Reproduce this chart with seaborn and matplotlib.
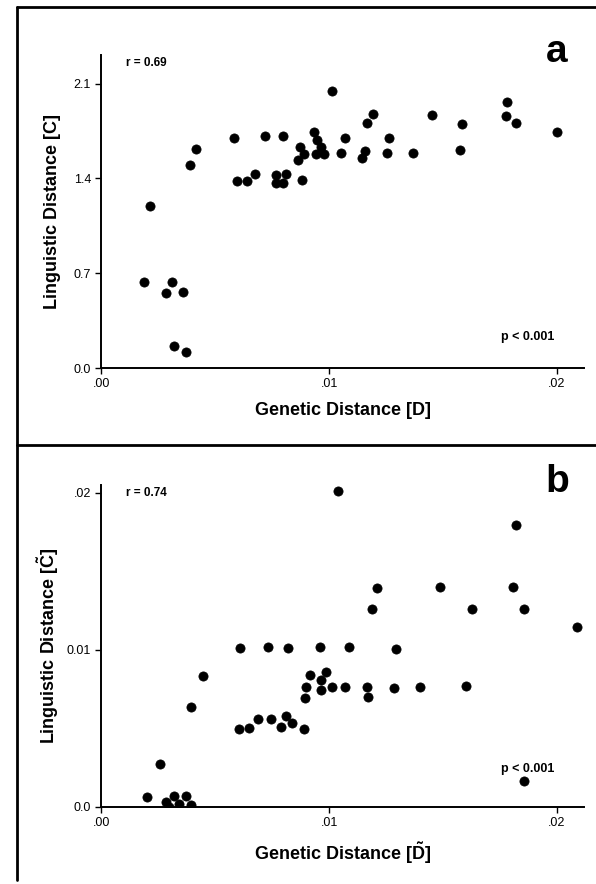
import numpy as np
import pandas as pd
import matplotlib.pyplot as plt
import seaborn as sns
from matplotlib.lines import Line2D

# panel a : genetic distance D vs linguistic distance C
gen_a = [0.0101, 0.0178, 0.01776, 0.0182, 0.0200, 0.01452, 0.01584, 0.01574,
         0.0119, 0.01165, 0.01157, 0.01145, 0.01264, 0.01255, 0.01367, 0.01068,
         0.01052, 0.00932, 0.00948, 0.00965, 0.0094, 0.00977, 0.00873, 0.0089,
         0.00861, 0.00881, 0.00798, 0.00718, 0.00583, 0.00594, 0.00639, 0.00673,
         0.00768, 0.00768, 0.00798, 0.00811, 0.00416, 0.00389, 0.00212, 0.00185,
         0.00311, 0.00282, 0.00356, 0.00317, 0.00369]
ling_a = [2.048, 1.962, 1.857, 1.810, 1.741, 1.869, 1.803, 1.606,
          1.876, 1.810, 1.601, 1.550, 1.700, 1.589, 1.584, 1.700,
          1.589, 1.741, 1.680, 1.631, 1.582, 1.577, 1.631, 1.582,
          1.537, 1.390, 1.709, 1.712, 1.700, 1.378, 1.378, 1.434,
          1.422, 1.365, 1.365, 1.429, 1.618, 1.496, 1.196, 0.636,
          0.636, 0.557, 0.562, 0.165, 0.115]

# panel b : genetic distance D~ vs linguistic distance C~
gen_b = [0.0104, 0.0182, 0.0121, 0.01187, 0.01486, 0.01808, 0.01626, 0.01853,
         0.02087, 0.00606, 0.00733, 0.0082, 0.00958, 0.01085, 0.01292, 0.00446,
         0.00394, 0.00915, 0.00985, 0.00965, 0.00898, 0.00962, 0.01012, 0.01068,
         0.01167, 0.0117, 0.01284, 0.01399, 0.01601, 0.00895, 0.00604, 0.00649,
         0.00689, 0.00746, 0.0079, 0.00811, 0.00835, 0.0089, 0.00255, 0.00199,
         0.00282, 0.00317, 0.00372, 0.00295, 0.00339, 0.00394, 0.01855]
ling_b = [0.0201, 0.01794, 0.01393, 0.01257, 0.01397, 0.01397, 0.01257, 0.01257,
          0.01146, 0.01009, 0.01015, 0.01009, 0.01015, 0.01015, 0.01004, 0.00834,
          0.00637, 0.00839, 0.0086, 0.00807, 0.00764, 0.00743, 0.0076, 0.0076,
          0.0076, 0.0070, 0.00754, 0.0076, 0.00771, 0.0069, 0.00493, 0.00503,
          0.00559, 0.00557, 0.00506, 0.00578, 0.00535, 0.00493, 0.00272, 0.0006,
          0.00032, 0.0007, 0.0007, 0.0, 0.00017, 0.0001, 0.00166]

x_ticks = [0.0, 0.01, 0.02]
x_ticklabels = [".00", ".01", ".02"]
ya_ticks = [0.0, 0.7, 1.4, 2.1]
ya_ticklabels = ["0.0", "0.7", "1.4", "2.1"]
yb_ticks = [0.0, 0.01, 0.02]
yb_ticklabels = ["0.0", "0.01", ".02"]

df_a = pd.DataFrame({"gen": gen_a, "ling": ling_a})
df_b = pd.DataFrame({"gen": gen_b, "ling": ling_b})

sns.set_style("ticks")
plt.rcParams["font.family"] = ["Liberation Sans", "DejaVu Sans"]
plt.rcParams["mathtext.fontset"] = "custom"
plt.rcParams["mathtext.bf"] = "Liberation Sans:bold"
plt.rcParams["mathtext.rm"] = "Liberation Sans"
plt.rcParams["text.color"] = "black"
plt.rcParams["axes.labelcolor"] = "black"

fig = plt.figure(figsize=(5.96, 8.84), dpi=100)
ax_a = fig.add_axes([0.1703, 0.5837, 0.809, 0.354])
ax_b = fig.add_axes([0.1703, 0.0874, 0.809, 0.364])

panels = [
    (ax_a, df_a, (0, 2.31), ya_ticks, ya_ticklabels, "a", "r = 0.69",
     "Linguistic Distance [C]", "Genetic Distance [D]", 0.08),
    (ax_b, df_b, (0, 0.0205), yb_ticks, yb_ticklabels, "b", "r = 0.74",
     r"Linguistic Distance [$\mathbf{\tilde{C}}$]",
     r"Genetic Distance [$\mathbf{\tilde{D}}$]", 0.1),
]

for ax, df, ylim, yt, ytl, letter, rtxt, ylab, xlab, py in panels:
    sns.scatterplot(data=df, x="gen", y="ling", ax=ax, color="black",
                    s=44, edgecolor="black", linewidth=0.5)
    ax.set_xlim(0, 0.02117)
    ax.set_ylim(*ylim)
    ax.set_xticks(x_ticks)
    ax.set_xticklabels(x_ticklabels)
    ax.set_yticks(yt)
    ax.set_yticklabels(ytl)
    ax.tick_params(labelsize=9, length=4, width=1, colors="black")
    sns.despine(ax=ax)
    for sp in ["left", "bottom"]:
        ax.spines[sp].set_linewidth(1.4)
        ax.spines[sp].set_color("black")
    ax.set_xlabel(xlab, fontsize=13, fontweight="bold", labelpad=8)
    ax.set_ylabel(ylab, fontsize=13, fontweight="bold")
    ax.yaxis.set_label_coords(-0.084, 0.5)
    ax.text(0.05, 0.975, rtxt, transform=ax.transAxes, fontsize=8.5,
            fontweight="bold", ha="left", va="center")
    ax.text(0.945, 1.01, letter, transform=ax.transAxes, fontsize=28,
            fontweight="bold", ha="center", va="center")
    ax.text(0.94, py, "p < 0.001", transform=ax.transAxes, fontsize=9,
            fontweight="bold", ha="right", va="bottom")

# outer frame of the figure
fig.add_artist(Line2D([16.5 / 596, 16.5 / 596], [1 - 7 / 884, 1 - 880 / 884],
                      color="black", lw=2))
fig.add_artist(Line2D([16.5 / 596, 1.0], [1 - 7 / 884, 1 - 7 / 884],
                      color="black", lw=2))
fig.add_artist(Line2D([16.5 / 596, 1.0], [1 - 445 / 884, 1 - 445 / 884],
                      color="black", lw=2))

fig.savefig("out.png", dpi=100)
